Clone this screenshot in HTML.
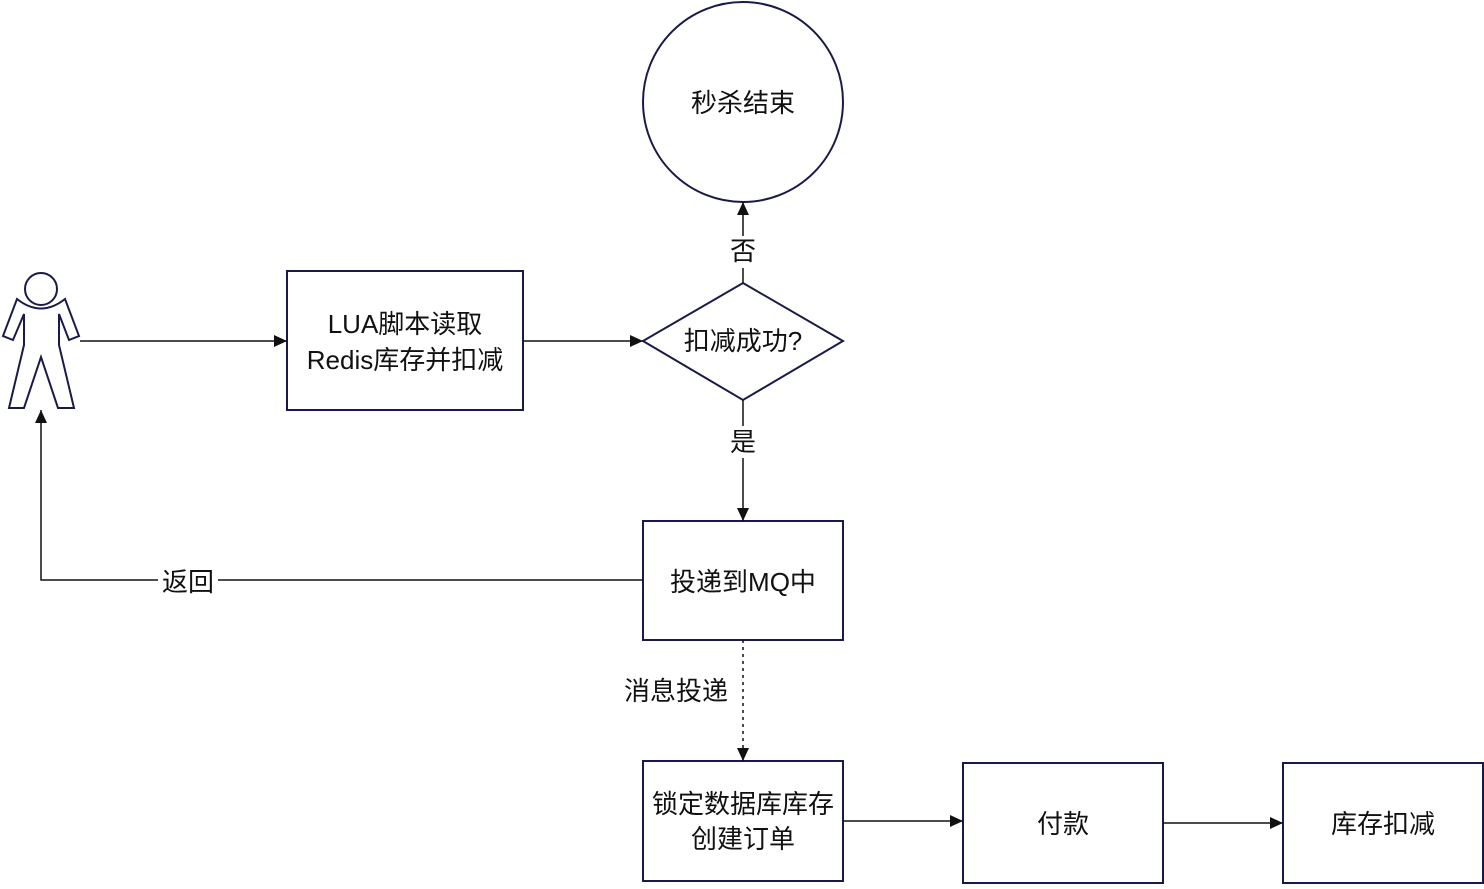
<!DOCTYPE html>
<html><head><meta charset="utf-8"><style>
html,body{margin:0;padding:0;background:#fff;}
svg text{font-family:"Liberation Sans","Noto Sans CJK SC",sans-serif;font-size:26px;fill:#111;}
</style></head><body>
<svg width="1484" height="884" viewBox="0 0 1484 884" xmlns="http://www.w3.org/2000/svg">
<defs><marker id="a" markerWidth="14" markerHeight="14" refX="13" refY="6" orient="auto" markerUnits="userSpaceOnUse"><path d="M0,0 L13,6 L0,12 z" fill="#111"/></marker></defs>
<g fill="none" stroke="#1a1a4a" stroke-width="2">
<circle cx="41" cy="289" r="16"/>
<path d="M17,299 Q41,318 65,299 L79,336 L69,340 L59,314 L59,345 L74,408 L58,408 L41,357 L24,408 L9,408 L24,345 L24,314 L13,340 L3,336 Z"/>
<rect x="287" y="271" width="236" height="139"/>
<circle cx="743" cy="102" r="100"/>
<path d="M743,283 L843,341 L743,400 L643,341 Z"/>
<rect x="643" y="521" width="200" height="119"/>
<rect x="643" y="761" width="200" height="120"/>
<rect x="963" y="763" width="200" height="120"/>
<rect x="1283" y="763" width="200" height="120"/>
</g>
<g stroke="#111" stroke-width="1.5" fill="none">
<line x1="80" y1="341" x2="287" y2="341" marker-end="url(#a)"/>
<line x1="523" y1="341" x2="643" y2="341" marker-end="url(#a)"/>
<line x1="743" y1="283" x2="743" y2="202" marker-end="url(#a)"/>
<line x1="743" y1="400" x2="743" y2="521" marker-end="url(#a)"/>
<polyline points="643,580 41,580 41,410" marker-end="url(#a)"/>
<line x1="743" y1="640" x2="743" y2="761" stroke-dasharray="3,4" marker-end="url(#a)"/>
<line x1="843" y1="821" x2="963" y2="821" marker-end="url(#a)"/>
<line x1="1163" y1="823" x2="1283" y2="823" marker-end="url(#a)"/>
</g>
<rect x="726" y="236" width="34" height="32" fill="#fff"/>
<rect x="726" y="426" width="34" height="32" fill="#fff"/>
<rect x="158" y="565" width="60" height="32" fill="#fff"/>
<g text-anchor="middle">
<text x="405" y="333">LUA脚本读取</text>
<text x="405" y="369">Redis库存并扣减</text>
<text x="743" y="112">秒杀结束</text>
<text x="743" y="350">扣减成功?</text>
<text x="743" y="260">否</text>
<text x="743" y="451">是</text>
<text x="743" y="591">投递到MQ中</text>
<text x="188" y="591">返回</text>
<text x="676" y="700">消息投递</text>
<text x="743" y="813">锁定数据库库存</text>
<text x="743" y="848">创建订单</text>
<text x="1063" y="833">付款</text>
<text x="1383" y="833">库存扣减</text>
</g>
</svg>
</body></html>
